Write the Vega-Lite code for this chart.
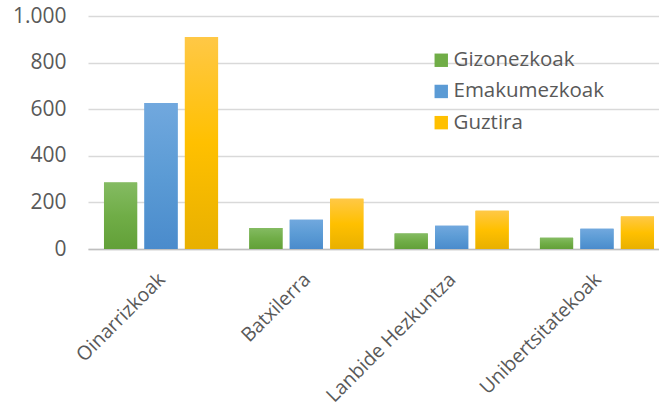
{
  "$schema": "https://vega.github.io/schema/vega-lite/v6.json",
  "autosize": {"type": "none"},
  "padding": {"left": 88, "top": 16, "right": 0, "bottom": 162},
  "width": 571,
  "height": 233,
  "background": "white",
  "config": {
    "view": {"stroke": null},
    "font": "Open Sans",
    "axis": {"labelColor": "#595959", "labelFont": "Open Sans"},
    "legend": {"labelColor": "#595959", "labelFont": "Open Sans"}
  },
  "data": {
    "values": [
      {"kategoria": "Oinarrizkoak", "taldea": "Gizonezkoak", "balioa": 285},
      {"kategoria": "Oinarrizkoak", "taldea": "Emakumezkoak", "balioa": 627},
      {"kategoria": "Oinarrizkoak", "taldea": "Guztira", "balioa": 910},
      {"kategoria": "Batxilerra", "taldea": "Gizonezkoak", "balioa": 90},
      {"kategoria": "Batxilerra", "taldea": "Emakumezkoak", "balioa": 126},
      {"kategoria": "Batxilerra", "taldea": "Guztira", "balioa": 216},
      {"kategoria": "Lanbide Hezkuntza", "taldea": "Gizonezkoak", "balioa": 66},
      {"kategoria": "Lanbide Hezkuntza", "taldea": "Emakumezkoak", "balioa": 100},
      {"kategoria": "Lanbide Hezkuntza", "taldea": "Guztira", "balioa": 164},
      {"kategoria": "Unibertsitatekoak", "taldea": "Gizonezkoak", "balioa": 48},
      {"kategoria": "Unibertsitatekoak", "taldea": "Emakumezkoak", "balioa": 87},
      {"kategoria": "Unibertsitatekoak", "taldea": "Guztira", "balioa": 139}
    ]
  },
  "encoding": {
    "x": {
      "field": "kategoria",
      "type": "nominal",
      "sort": ["Oinarrizkoak", "Batxilerra", "Lanbide Hezkuntza", "Unibertsitatekoak"],
      "scale": {"range": [0, 582], "paddingInner": 0.215, "paddingOuter": 0.11},
      "axis": {
        "title": null,
        "labelAngle": -45,
        "labelAlign": "right",
        "labelBaseline": "middle",
        "labelFontSize": 19.5,
        "labelLimit": 400,
        "labelOffset": 1,
        "labelPadding": 27,
        "ticks": false,
        "domainColor": "#bfbfbf",
        "domainWidth": 1.5,
        "grid": false
      }
    },
    "xOffset": {
      "field": "taldea",
      "type": "nominal",
      "sort": ["Gizonezkoak", "Emakumezkoak", "Guztira"],
      "scale": {"paddingInner": 0.18, "paddingOuter": 0}
    },
    "y": {
      "field": "balioa",
      "type": "quantitative",
      "scale": {"domain": [0, 1000], "nice": false},
      "axis": {
        "title": null,
        "values": [0, 200, 400, 600, 800, 1000],
        "labelExpr": "replace(format(datum.value, ','), ',', '.')",
        "labelFontSize": 21,
        "labelPadding": 22,
        "ticks": false,
        "domain": false,
        "gridColor": "#d9d9d9",
        "gridWidth": 1.3
      }
    }
  },
  "layer": [
    {
      "mark": {"type": "bar"},
      "encoding": {
        "color": {
          "field": "taldea",
          "type": "nominal",
          "sort": ["Gizonezkoak", "Emakumezkoak", "Guztira"],
          "scale": {
            "domain": ["Gizonezkoak", "Emakumezkoak", "Guztira"],
            "range": ["#70ad47", "#5b9bd5", "#ffc000"]
          },
          "legend": {
            "title": null,
            "orient": "none",
            "legendX": 343,
            "legendY": 34,
            "symbolType": "square",
            "symbolSize": 180,
            "symbolStrokeWidth": 0,
            "symbolOpacity": 1,
            "labelFontSize": 20.5,
            "labelOffset": 2,
            "rowPadding": 10.2
          }
        }
      }
    },
    {
      "mark": {"type": "bar"},
      "encoding": {
        "fill": {
          "condition": [
            {"test": "datum.taldea === 'Gizonezkoak'", "value": {"gradient": "linear", "x1": 0, "y1": 0, "x2": 0, "y2": 1, "stops": [{"offset": 0, "color": "#84bb62"}, {"offset": 0.5, "color": "#70ad47"}, {"offset": 1, "color": "#62a038"}]}},
            {"test": "datum.taldea === 'Emakumezkoak'", "value": {"gradient": "linear", "x1": 0, "y1": 0, "x2": 0, "y2": 1, "stops": [{"offset": 0, "color": "#71a8de"}, {"offset": 0.5, "color": "#5b9bd5"}, {"offset": 1, "color": "#4a8bcc"}]}}
          ],
          "value": {"gradient": "linear", "x1": 0, "y1": 0, "x2": 0, "y2": 1, "stops": [{"offset": 0, "color": "#ffc846"}, {"offset": 0.5, "color": "#ffc000"}, {"offset": 1, "color": "#e8b000"}]}
        }
      }
    }
  ]
}
